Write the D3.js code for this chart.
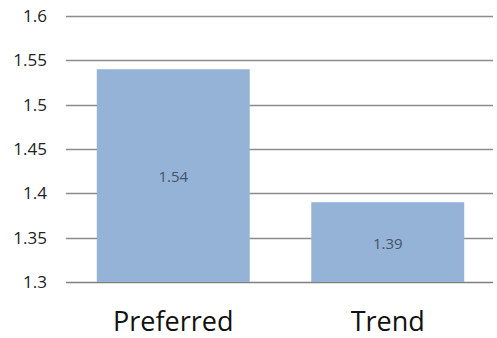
<!DOCTYPE html>
<html>
<head>
<meta charset="utf-8">
<script src="https://cdn.jsdelivr.net/npm/d3@7"></script>
<style>
  body { margin: 0; background: #fff; }
  svg { display: block; font-family: "Open Sans", sans-serif; }
</style>
</head>
<body>
<div id="chart"></div>
<script>
// data
const categories = ["Preferred", "Trend"];
const values = [1.54, 1.39];
const yTicks = [1.3, 1.35, 1.4, 1.45, 1.5, 1.55, 1.6];

const width = 497, height = 338;
const margin = {top: 16, right: 2, bottom: 56, left: 66};

let svg = d3.select("#chart").append("svg")
    .attr("width", width)
    .attr("height", height);

let x = d3.scaleBand()
    .domain(categories)
    .range([margin.left, width - margin.right])
    .paddingInner(0.287)
    .paddingOuter(0.1435);

let y = d3.scaleLinear()
    .domain([1.3, 1.6])
    .range([height - margin.bottom, margin.top]);

// gridlines
svg.append("g")
    .selectAll("line")
    .data(yTicks)
    .enter()
    .append("line")
    .attr("x1", margin.left)
    .attr("x2", width - 4)
    .attr("y1", d => Math.round(y(d)) + 0.5)
    .attr("y2", d => Math.round(y(d)) + 0.5)
    .attr("stroke", d => d === 1.3 ? "#7f7f7f" : "#8c8c8c")
    .attr("stroke-width", 1.5);

// y tick labels
svg.append("g")
    .selectAll("text")
    .data(yTicks)
    .enter()
    .append("text")
    .attr("x", 47)
    .attr("y", d => y(d))
    .attr("dy", "0.36em")
    .attr("text-anchor", "end")
    .attr("font-size", 17)
    .attr("fill", "#222")
    .text(d => d);

// bars
svg.append("g")
    .selectAll("rect")
    .data(categories)
    .enter()
    .append("rect")
    .attr("x", d => x(d))
    .attr("width", x.bandwidth())
    .attr("y", (d, i) => y(values[i]))
    .attr("height", (d, i) => y(1.3) - y(values[i]))
    .attr("fill", "#95b3d7");

// value labels
svg.append("g")
    .selectAll("text")
    .data(categories)
    .enter()
    .append("text")
    .attr("x", d => x(d) + x.bandwidth() / 2)
    .attr("y", (d, i) => (y(values[i]) + y(1.3)) / 2)
    .attr("dy", "0.45em")
    .attr("text-anchor", "middle")
    .attr("font-size", 15)
    .attr("fill", "#44546a")
    .text((d, i) => values[i].toFixed(2));

// category labels
svg.append("g")
    .selectAll("text")
    .data(categories)
    .enter()
    .append("text")
    .attr("x", d => x(d) + x.bandwidth() / 2)
    .attr("y", 331)
    .attr("text-anchor", "middle")
    .attr("font-size", 27)
    .attr("fill", "#111")
    .text(d => d);
</script>
</body>
</html>
